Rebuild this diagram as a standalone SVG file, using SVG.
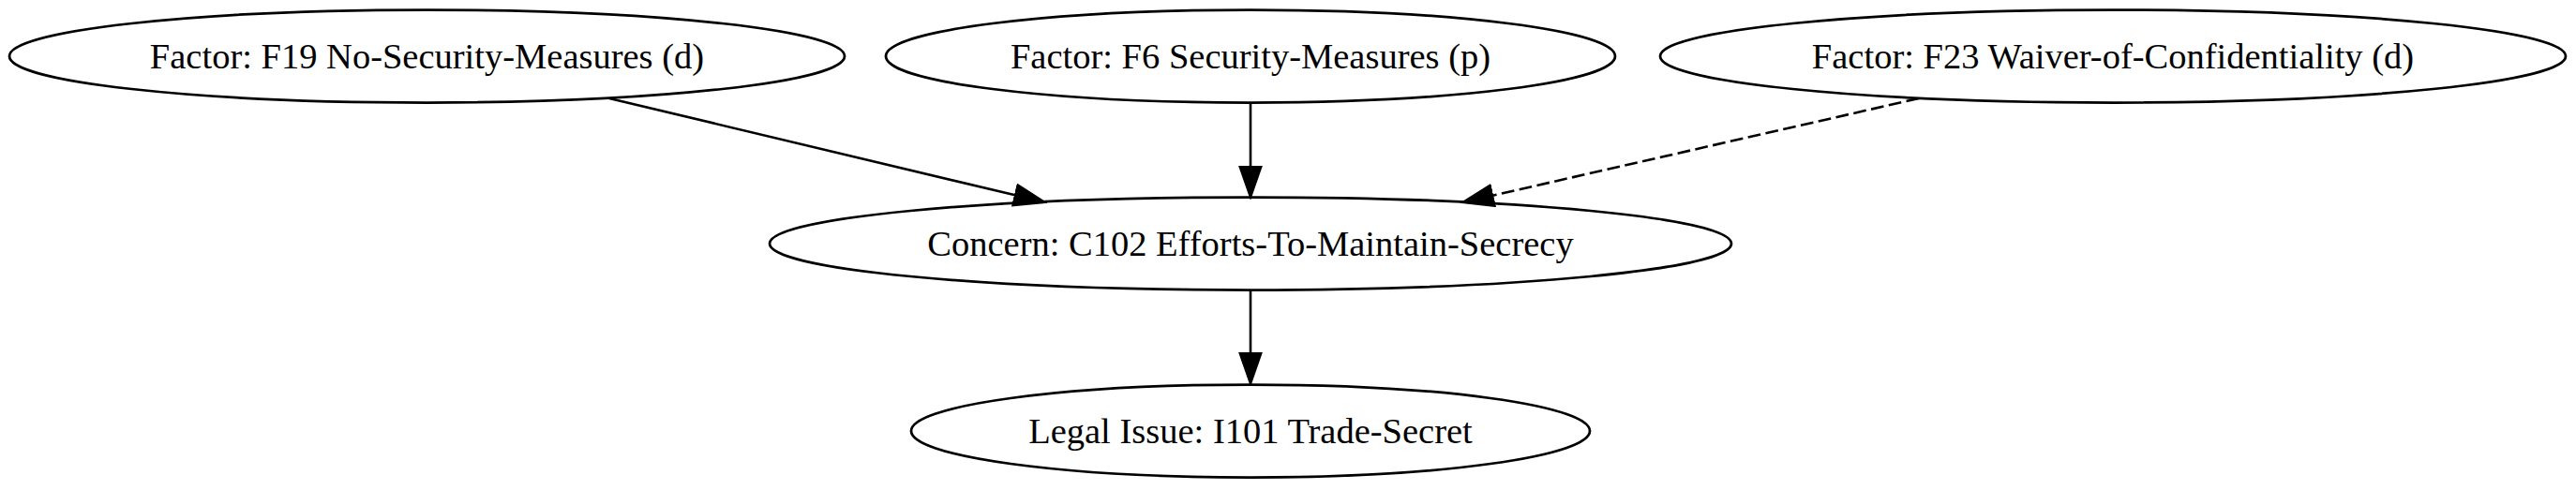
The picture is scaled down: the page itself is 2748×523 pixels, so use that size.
<svg xmlns="http://www.w3.org/2000/svg" width="2748" height="523" viewBox="0 0 2748 523">
<style>
.node ellipse{fill:none;stroke:#000;stroke-width:2.75}
.node text{font-family:"Liberation Serif","Times New Roman",serif;font-size:38.5px;text-anchor:middle;fill:#000}
.edge{fill:none;stroke:#000;stroke-width:2.6}
.dashed{stroke-dasharray:13.75 5.5}
</style>
<defs>
<marker id="arrow" markerUnits="userSpaceOnUse" viewBox="-1 -13 36 26" refX="0" refY="0" markerWidth="36" markerHeight="26" orient="auto">
<path d="M0,-11.5 L33,0 L0,11.5 Z" fill="#000" stroke="#000" stroke-width="2"/>
</marker>
</defs>
<rect width="2748" height="523" fill="#fff"/>
<g id="connectors">
<path class="edge" d="M650,105 L1082.9,208.3" marker-end="url(#arrow)"/>
<path class="edge" d="M1334,110 L1334,178" marker-end="url(#arrow)"/>
<path class="edge dashed" d="M2047,105 L1592.2,208.7" marker-end="url(#arrow)"/>
<path class="edge" d="M1334,310 L1334,377" marker-end="url(#arrow)"/>
</g>
<g id="F19" class="node">
<ellipse cx="455.5" cy="60" rx="445.5" ry="49.5"/>
<text x="455.5" y="73">Factor: F19 No-Security-Measures (d)</text>
</g>
<g id="F6" class="node">
<ellipse cx="1334" cy="60" rx="389" ry="49.5"/>
<text x="1334" y="73">Factor: F6 Security-Measures (p)</text>
</g>
<g id="F23" class="node">
<ellipse cx="2254" cy="60" rx="483" ry="49.5"/>
<text x="2254" y="73">Factor: F23 Waiver-of-Confidentiality (d)</text>
</g>
<g id="C102" class="node">
<ellipse cx="1334" cy="260" rx="513" ry="49.5"/>
<text x="1334" y="273">Concern: C102 Efforts-To-Maintain-Secrecy</text>
</g>
<g id="I101" class="node">
<ellipse cx="1334" cy="460" rx="362" ry="49.5"/>
<text x="1334" y="473">Legal Issue: I101 Trade-Secret</text>
</g>
</svg>
